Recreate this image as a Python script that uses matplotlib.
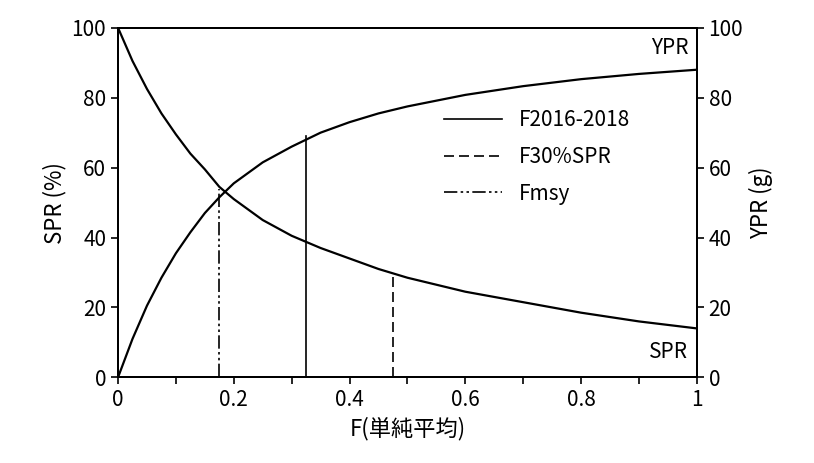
import numpy as np
import matplotlib
matplotlib.use("Agg")
import matplotlib.pyplot as plt

plt.rcParams['font.family'] = ['Noto Sans CJK JP', 'DejaVu Sans']

f_vals = [0, 0.025, 0.05, 0.075, 0.1, 0.125, 0.15, 0.175, 0.2, 0.25, 0.3, 0.35, 0.4,
          0.45, 0.5, 0.6, 0.7, 0.8, 0.9, 1.0]
spr = [100, 90.5, 82.5, 75.5, 69.5, 64, 59.5, 54.5, 51, 45, 40.5, 37, 34, 31,
       28.5, 24.5, 21.5, 18.5, 16, 14]
ypr = [0, 11, 20.5, 28.5, 35.5, 41.5, 47, 51.5, 55.5, 61.5, 66, 70, 73, 75.5,
       77.5, 80.8, 83.3, 85.3, 86.8, 88]

f_current, ypr_current = 0.325, 69
f_30, spr_30 = 0.475, 29
f_msy, ypr_msy = 0.175, 54

fig, ax = plt.subplots(figsize=(8.14, 4.63), dpi=100)
fig.subplots_adjust(left=0.145, right=0.856, top=0.94, bottom=0.185)

ax.plot(f_vals, spr, color='black', lw=1.6)
ax2 = ax.twinx()
ax2.plot(f_vals, ypr, color='black', lw=1.6)

ax.plot([f_current, f_current], [0, ypr_current], color='black', lw=1.2, label='F2016-2018')
ax.plot([f_30, f_30], [0, spr_30], color='black', lw=1.2, ls=(0, (6, 3)), label='F30%SPR')
ax.plot([f_msy, f_msy], [0, ypr_msy], color='black', lw=1.2, ls=(0, (8, 2, 1.5, 2, 1.5, 2)), label='Fmsy')

for a in (ax, ax2):
    a.set_ylim(0, 100)
    a.set_yticks(range(0, 101, 20))
    a.tick_params(labelsize=15, length=5, width=1.2)
    for s in a.spines.values():
        s.set_linewidth(1.4)
ax.set_xlim(0, 1)
ax.set_xticks([0, 0.2, 0.4, 0.6, 0.8, 1])
ax.set_xticklabels(['0', '0.2', '0.4', '0.6', '0.8', '1'])
ax.set_xticks(np.arange(0.1, 1.0, 0.2), minor=True)
ax.tick_params(axis='x', which='minor', length=5, width=1.2)

ax.set_xlabel('F(単純平均)', fontsize=16)
ax.set_ylabel('SPR (%)', fontsize=16)
ax2.set_ylabel('YPR (g)', fontsize=16)

ax.text(0.985, 91, 'YPR', fontsize=15, ha='right', va='bottom')
ax.text(0.985, 4, 'SPR', fontsize=15, ha='right', va='bottom')

ax.legend(loc='upper left', bbox_to_anchor=(0.53, 0.82), frameon=False, fontsize=15,
          handlelength=2.8, labelspacing=0.7)

fig.savefig('out.png', dpi=100)
